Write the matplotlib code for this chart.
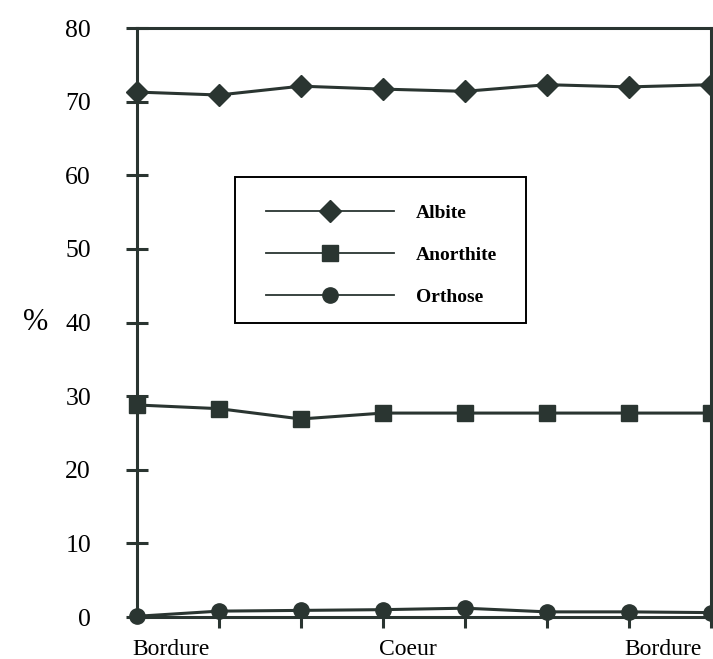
import matplotlib
matplotlib.use("Agg")
import matplotlib.pyplot as plt
from matplotlib.patches import Rectangle

# profile across the crystal, 8 analysis points
positions = [0, 1, 2, 3, 4, 5, 6, 7]
albite = [71.3, 70.9, 72.1, 71.7, 71.4, 72.3, 72.0, 72.3]
anorthite = [28.8, 28.3, 26.9, 27.7, 27.7, 27.7, 27.7, 27.7]
orthose = [0.1, 0.8, 0.9, 1.0, 1.2, 0.7, 0.7, 0.6]
profile_labels = ["Bordure", "Coeur", "Bordure"]
profile_label_pos = [0, 3, 6]
yticks = [0, 10, 20, 30, 40, 50, 60, 70, 80]

plt.rcParams["font.family"] = ["Liberation Serif", "DejaVu Serif"]
col = "#2a3531"

fig = plt.figure(figsize=(7.13, 6.59), dpi=100)
ax = fig.add_axes([0.192, 0.0637, 0.805, 0.8938])

ax.plot(positions, albite, color=col, lw=2.2, marker="D", ms=11, clip_on=False, label="Albite")
ax.plot(positions, anorthite, color=col, lw=2.2, marker="s", ms=12, clip_on=False, label="Anorthite")
ax.plot(positions, orthose, color=col, lw=2.2, marker="o", ms=11, clip_on=False, label="Orthose")

ax.set_xlim(0, 7)
ax.set_ylim(0, 80)
ax.set_yticks(yticks)
ax.set_yticklabels([str(v) for v in yticks], fontsize=18.5)
ax.set_xticks(positions[1:])
ax.set_xticklabels([])

for s in ax.spines.values():
    s.set_linewidth(2.2)
    s.set_color(col)
ax.tick_params(axis="y", direction="inout", length=16, width=2.2, color=col, pad=25)
ax.tick_params(axis="x", direction="out", length=8, width=2.2, color=col)

for lab, p in zip(profile_labels, profile_label_pos):
    ax.text(p - 0.05, -3.0, lab, ha="left", va="top", fontsize=17)

ax.text(-1.24, 40, "%", ha="center", va="center", fontsize=22)

# legend box drawn separately so the frame can be a bit tighter than the padding
ax.add_patch(Rectangle((0.1707, 0.4992), 0.507, 0.2478, transform=ax.transAxes,
                       fill=False, edgecolor="black", lw=1.4, zorder=4))
leg = ax.legend(loc="upper left", bbox_to_anchor=(0.1777, 0.747), fontsize=14,
                handlelength=6.6, handletextpad=1.1, labelspacing=1.26,
                borderpad=1.4, frameon=False, borderaxespad=0)
for h in leg.legend_handles:
    h.set_linewidth(1.3)
for t in leg.get_texts():
    t.set_fontweight("bold")

plt.savefig("out.png", dpi=100)
